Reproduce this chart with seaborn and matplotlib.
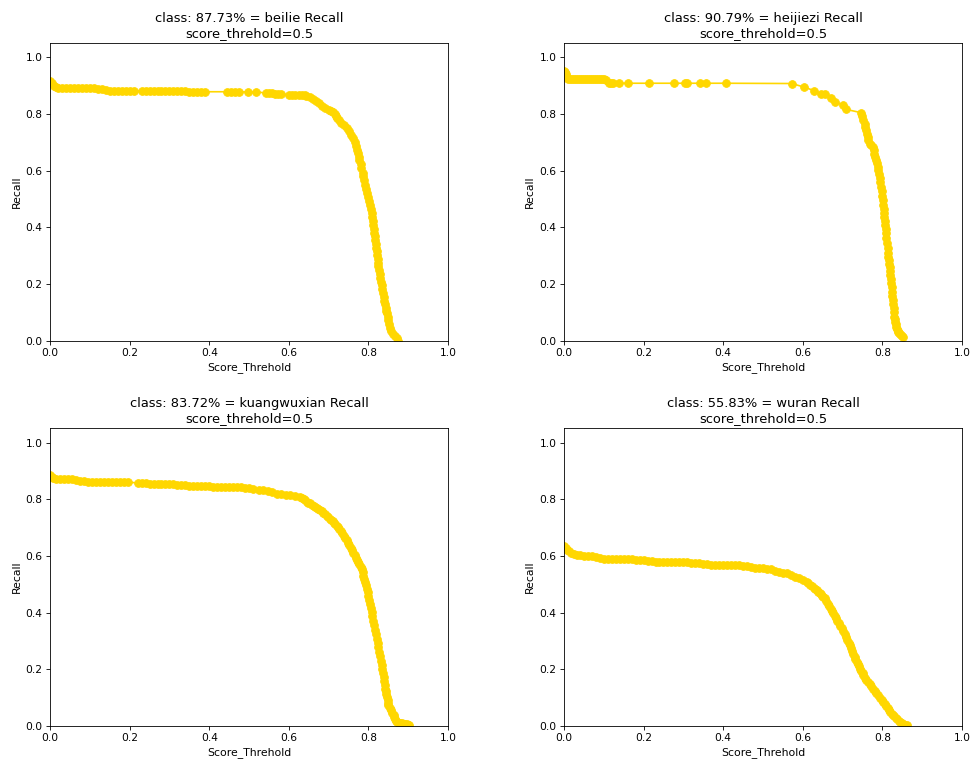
import numpy as np
import pandas as pd
import matplotlib
matplotlib.use("Agg")
import matplotlib.pyplot as plt
import seaborn as sns

# class names and recall values (title)
classes = ["beilie", "heijiezi", "kuangwuxian", "wuran"]
recall_pct = ["87.73%", "90.79%", "83.72%", "55.83%"]
score_threhold = 0.5

# beilie
x_beilie = [0.0, 0.005, 0.01, 0.015, 0.02, 0.03, 0.04, 0.05, 0.06, 0.07, 0.08, 0.09, 0.10, 0.11, 0.12,
            0.13, 0.14, 0.15, 0.16, 0.17, 0.18, 0.19, 0.20, 0.21,
            0.23, 0.24, 0.25, 0.26, 0.27, 0.28, 0.29, 0.30, 0.31, 0.32, 0.33, 0.34, 0.35, 0.36, 0.37,
            0.38, 0.39, 0.445, 0.455, 0.465, 0.475, 0.497, 0.518, 0.543, 0.55, 0.557, 0.565, 0.572,
            0.58, 0.60, 0.607, 0.615, 0.625, 0.632, 0.64,
            0.644, 0.652, 0.66, 0.668, 0.676, 0.684, 0.692, 0.70, 0.706, 0.712, 0.716, 0.719, 0.722,
            0.725, 0.732, 0.738, 0.745, 0.751, 0.757, 0.762, 0.765, 0.768, 0.771, 0.773, 0.775, 0.777,
            0.78, 0.782, 0.785, 0.787, 0.789, 0.792, 0.794, 0.797, 0.80, 0.802, 0.804, 0.806, 0.808,
            0.809, 0.811, 0.812, 0.814, 0.815, 0.816, 0.817, 0.818, 0.82, 0.821, 0.822, 0.823, 0.824,
            0.825, 0.827, 0.828, 0.83, 0.832, 0.834, 0.835, 0.837, 0.838, 0.84, 0.841, 0.843, 0.845,
            0.846, 0.848, 0.85, 0.852, 0.854, 0.857, 0.861, 0.867, 0.871, 0.875]
y_beilie = [0.915, 0.908, 0.90, 0.895, 0.891, 0.89, 0.89, 0.89, 0.89, 0.89, 0.89, 0.89, 0.89, 0.89, 0.888,
            0.886, 0.884, 0.882, 0.881, 0.881, 0.881, 0.881, 0.881, 0.881,
            0.881, 0.881, 0.881, 0.881, 0.881, 0.881, 0.881, 0.881, 0.88, 0.88, 0.88, 0.879, 0.878, 0.878,
            0.878, 0.878, 0.878, 0.878, 0.878, 0.878, 0.878, 0.877, 0.877, 0.874, 0.873, 0.872, 0.871,
            0.87, 0.869, 0.868, 0.868, 0.868, 0.867, 0.867, 0.867,
            0.864, 0.858, 0.851, 0.845, 0.837, 0.828, 0.821, 0.815, 0.81, 0.805, 0.80, 0.792, 0.785,
            0.778, 0.768, 0.76, 0.749, 0.738, 0.726, 0.714, 0.70, 0.687, 0.673, 0.661, 0.649, 0.636,
            0.622, 0.608, 0.593, 0.579, 0.565, 0.55, 0.536, 0.522, 0.508, 0.494, 0.48, 0.465, 0.45,
            0.436, 0.422, 0.408, 0.394, 0.38, 0.368, 0.356, 0.342, 0.328, 0.315, 0.302, 0.289, 0.275,
            0.262, 0.248, 0.235, 0.222, 0.208, 0.195, 0.181, 0.168, 0.155, 0.141, 0.128, 0.115, 0.105,
            0.097, 0.084, 0.071, 0.058, 0.045, 0.035, 0.025, 0.015, 0.008, 0.0]

# heijiezi
x_heijiezi = [0.0, 0.002, 0.004, 0.006, 0.008, 0.01, 0.015, 0.02, 0.025, 0.03, 0.035, 0.04, 0.045, 0.05,
              0.055, 0.06, 0.065, 0.07, 0.075, 0.08, 0.085, 0.09, 0.095, 0.10, 0.105,
              0.112, 0.117, 0.124, 0.138, 0.161, 0.214, 0.276, 0.304, 0.31, 0.343, 0.358, 0.406,
              0.572, 0.602, 0.628, 0.645, 0.656, 0.671, 0.681, 0.70, 0.708, 0.747,
              0.749, 0.752, 0.755, 0.757, 0.759, 0.761, 0.763, 0.765, 0.768, 0.772, 0.776, 0.778, 0.78,
              0.782, 0.784, 0.786, 0.788, 0.79, 0.792, 0.794, 0.795, 0.797, 0.798, 0.80, 0.801, 0.802,
              0.803, 0.804, 0.805, 0.806, 0.807, 0.808, 0.809, 0.81, 0.812, 0.813, 0.814, 0.815, 0.816,
              0.817, 0.818, 0.819, 0.82, 0.821, 0.822, 0.823, 0.824, 0.825, 0.826, 0.827, 0.828, 0.829,
              0.83, 0.831, 0.832, 0.833, 0.834, 0.836, 0.838, 0.84, 0.841, 0.844, 0.846, 0.849, 0.851]
y_heijiezi = [0.95, 0.947, 0.942, 0.935, 0.928, 0.923, 0.922, 0.922, 0.922, 0.922, 0.922, 0.922, 0.922, 0.922,
              0.922, 0.922, 0.922, 0.922, 0.922, 0.922, 0.922, 0.922, 0.922, 0.922, 0.92,
              0.908, 0.908, 0.908, 0.908, 0.908, 0.908, 0.908, 0.908, 0.908, 0.908, 0.908, 0.908,
              0.907, 0.895, 0.882, 0.869, 0.869, 0.855, 0.842, 0.831, 0.816, 0.804,
              0.792, 0.78, 0.765, 0.753, 0.742, 0.73, 0.718, 0.707, 0.695, 0.69, 0.684, 0.672, 0.66,
              0.648, 0.636, 0.625, 0.613, 0.601, 0.589, 0.574, 0.558, 0.542, 0.527, 0.511, 0.495, 0.48,
              0.466, 0.451, 0.437, 0.422, 0.408, 0.393, 0.378, 0.361, 0.343, 0.325, 0.308, 0.296, 0.284,
              0.272, 0.26, 0.245, 0.231, 0.217, 0.202, 0.188, 0.173, 0.158, 0.143, 0.129, 0.114, 0.1,
              0.085, 0.075, 0.065, 0.057, 0.049, 0.042, 0.035, 0.03, 0.026, 0.022, 0.018, 0.015, 0.012]

# kuangwuxian
x_kuang = [0.0, 0.004, 0.008, 0.015, 0.025, 0.035, 0.045, 0.055, 0.065, 0.075, 0.085, 0.095, 0.105, 0.115,
           0.125, 0.135, 0.145, 0.155, 0.165, 0.175, 0.185, 0.195, 0.22, 0.23, 0.24, 0.25, 0.26, 0.27, 0.28,
           0.29, 0.30, 0.31, 0.32, 0.33, 0.34, 0.35, 0.36, 0.37, 0.38, 0.39, 0.40, 0.41, 0.42, 0.43, 0.44,
           0.45, 0.46, 0.47, 0.48, 0.49, 0.50, 0.51, 0.525, 0.536, 0.547, 0.558, 0.57, 0.58, 0.592, 0.603,
           0.615, 0.628, 0.633, 0.637, 0.641, 0.645, 0.649, 0.653, 0.658, 0.662, 0.666, 0.67, 0.674, 0.678,
           0.682, 0.686, 0.69, 0.695, 0.699, 0.704, 0.707, 0.71, 0.714, 0.717, 0.72, 0.724, 0.727, 0.731,
           0.734, 0.738, 0.741, 0.745, 0.748, 0.752, 0.755, 0.759, 0.762, 0.766, 0.769, 0.771, 0.774,
           0.777, 0.78, 0.783, 0.785, 0.787, 0.789, 0.791, 0.793, 0.796, 0.798, 0.80, 0.802, 0.804, 0.806,
           0.808, 0.81, 0.812, 0.814, 0.816, 0.818, 0.821, 0.823, 0.825, 0.827, 0.829, 0.831, 0.833,
           0.835, 0.836, 0.838, 0.839, 0.841, 0.842, 0.844, 0.845, 0.847, 0.848, 0.849, 0.85, 0.853,
           0.856, 0.86, 0.863, 0.865, 0.867, 0.869, 0.871, 0.876, 0.88, 0.884, 0.888, 0.892, 0.896, 0.90,
           0.903]
y_kuang = [0.887, 0.88, 0.875, 0.873, 0.873, 0.873, 0.872, 0.87, 0.868, 0.866, 0.864, 0.862, 0.86, 0.86,
           0.86, 0.86, 0.86, 0.86, 0.86, 0.86, 0.86, 0.86, 0.858, 0.857, 0.856, 0.855, 0.855, 0.855, 0.855,
           0.855, 0.854, 0.853, 0.852, 0.85, 0.849, 0.848, 0.848, 0.848, 0.847, 0.846, 0.845, 0.844, 0.843,
           0.843, 0.843, 0.843, 0.843, 0.842, 0.842, 0.84, 0.838, 0.836, 0.834, 0.832, 0.828, 0.824, 0.82,
           0.817, 0.815, 0.814, 0.812, 0.808, 0.804, 0.80, 0.796, 0.792, 0.788, 0.785, 0.781, 0.777, 0.773,
           0.769, 0.765, 0.761, 0.757, 0.752, 0.747, 0.742, 0.737, 0.732, 0.727, 0.722, 0.717, 0.712,
           0.707, 0.702, 0.695, 0.688, 0.68, 0.671, 0.663, 0.655, 0.646, 0.637, 0.628, 0.62, 0.611,
           0.602, 0.594, 0.586, 0.578, 0.57, 0.562, 0.555, 0.542, 0.53, 0.519, 0.508, 0.497, 0.485,
           0.471, 0.457, 0.443, 0.43, 0.416, 0.402, 0.387, 0.371, 0.356, 0.34, 0.324, 0.308, 0.292,
           0.277, 0.261, 0.246, 0.23, 0.214, 0.2, 0.187, 0.173, 0.16, 0.146, 0.132, 0.122, 0.112, 0.102,
           0.092, 0.082, 0.073, 0.064, 0.055, 0.046, 0.038, 0.031, 0.025, 0.019, 0.014, 0.012, 0.01,
           0.009, 0.008, 0.007, 0.006, 0.005, 0.004]

# wuran
x_wuran = [0.0, 0.004, 0.008, 0.013, 0.018, 0.024, 0.032, 0.04, 0.05, 0.06, 0.07, 0.08, 0.09, 0.1, 0.11,
           0.12, 0.13, 0.14, 0.15, 0.16, 0.17, 0.18, 0.19, 0.2, 0.21, 0.22, 0.23, 0.24, 0.25, 0.26, 0.27,
           0.28, 0.29, 0.30, 0.31, 0.32, 0.33, 0.34, 0.35, 0.36, 0.37, 0.38, 0.39, 0.40, 0.41, 0.42, 0.43,
           0.44, 0.45, 0.46, 0.47, 0.48, 0.49, 0.50, 0.51, 0.52, 0.53, 0.54, 0.55, 0.56, 0.57, 0.58, 0.59,
           0.60, 0.61, 0.614, 0.618, 0.622, 0.627, 0.631, 0.635, 0.638, 0.642, 0.645, 0.649, 0.652, 0.656,
           0.659, 0.663, 0.666, 0.67, 0.673, 0.677, 0.68, 0.684, 0.687, 0.691, 0.694, 0.698, 0.701, 0.705,
           0.708, 0.712, 0.715, 0.719, 0.721, 0.724, 0.727, 0.73, 0.732, 0.735, 0.738, 0.741, 0.744,
           0.747, 0.75, 0.752, 0.756, 0.76, 0.764, 0.768, 0.772, 0.777, 0.781, 0.785, 0.79, 0.794, 0.798,
           0.802, 0.806, 0.809, 0.813, 0.816, 0.82, 0.823, 0.827, 0.83, 0.834, 0.837, 0.841, 0.844, 0.848,
           0.852, 0.857, 0.861]
y_wuran = [0.635, 0.627, 0.622, 0.617, 0.612, 0.607, 0.604, 0.602, 0.601, 0.6, 0.598, 0.596, 0.594, 0.59,
           0.588, 0.588, 0.588, 0.588, 0.588, 0.588, 0.588, 0.587, 0.586, 0.585, 0.583, 0.581, 0.58, 0.579,
           0.578, 0.578, 0.577, 0.577, 0.577, 0.577, 0.577, 0.576, 0.575, 0.574, 0.572, 0.57, 0.569, 0.569,
           0.568, 0.568, 0.567, 0.567, 0.567, 0.567, 0.566, 0.563, 0.56, 0.558, 0.557, 0.556, 0.555, 0.553,
           0.548, 0.543, 0.541, 0.54, 0.533, 0.527, 0.522, 0.515, 0.508, 0.503, 0.498, 0.493, 0.488, 0.483,
           0.479, 0.474, 0.47, 0.465, 0.46, 0.455, 0.45, 0.441, 0.432, 0.423, 0.414, 0.405, 0.397, 0.388,
           0.38, 0.371, 0.362, 0.353, 0.344, 0.334, 0.324, 0.314, 0.304, 0.294, 0.285, 0.275, 0.265,
           0.255, 0.245, 0.235, 0.226, 0.218, 0.21, 0.202, 0.195, 0.187, 0.179, 0.171, 0.163, 0.155,
           0.148, 0.14, 0.132, 0.124, 0.116, 0.108, 0.1, 0.092, 0.085, 0.078, 0.071, 0.064, 0.058, 0.051,
           0.044, 0.039, 0.034, 0.029, 0.024, 0.019, 0.014, 0.011, 0.008, 0.005, 0.002]

curves = [(x_beilie, y_beilie), (x_heijiezi, y_heijiezi), (x_kuang, y_kuang), (x_wuran, y_wuran)]

fig, axes = plt.subplots(2, 2, figsize=(13, 10.2), dpi=75)
fig.subplots_adjust(left=0.0513, right=0.9867, bottom=0.051, top=0.9438, wspace=0.291, hspace=0.295)

for ax, name, pct, (xs, ys) in zip(axes.flat, classes, recall_pct, curves):
    df = pd.DataFrame({"Score_Threhold": xs, "Recall": ys})
    sns.lineplot(data=df, x="Score_Threhold", y="Recall", ax=ax, sort=False, estimator=None,
                 color="gold", marker="o", markersize=7.5, markeredgecolor="gold", linewidth=1.6)
    ax.set_xlim(0.0, 1.0)
    ax.set_ylim(0.0, 1.05)
    ax.set_title("class: " + pct + " = " + name + " Recall\nscore_threhold=" + str(score_threhold),
                 fontsize=12.5)
    ax.set_xlabel("Score_Threhold", fontsize=10.4)
    ax.set_ylabel("Recall", fontsize=10.4)
    ax.tick_params(labelsize=10.2)

fig.savefig("out.png", dpi=75)
